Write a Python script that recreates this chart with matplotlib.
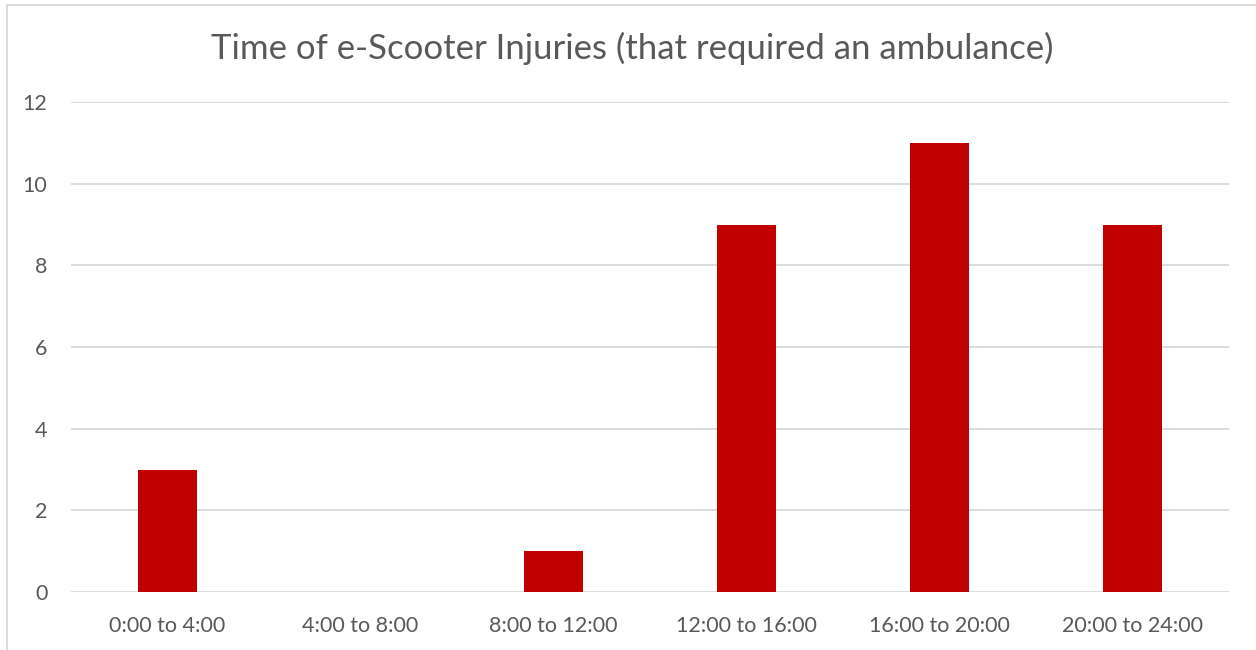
import matplotlib
matplotlib.use("Agg")
import matplotlib.pyplot as plt
from matplotlib.patches import Rectangle

categories = ["0:00 to 4:00", "4:00 to 8:00", "8:00 to 12:00",
              "12:00 to 16:00", "16:00 to 20:00", "20:00 to 24:00"]
values = [3, 0, 1, 9, 11, 9]
yticks = [0, 2, 4, 6, 8, 10, 12]
title = "Time of e-Scooter Injuries (that required an ambulance)"

plt.rcParams['font.family'] = ['Lato', 'DejaVu Sans']

W, H = 1256, 650
fig = plt.figure(figsize=(W / 100, H / 100), dpi=100)
fig.patch.set_facecolor("white")

# chart border
fig.patches.append(Rectangle((6.5 / W, -0.1), 1.2, 1 - 4.5 / H + 0.1,
                             transform=fig.transFigure, fill=False,
                             edgecolor="#D9D9D9", linewidth=1.3))

ax = fig.add_axes([71 / W, 1 - 592 / H, (1229 - 71) / W, (592 - 102) / H])
x = list(range(len(categories)))
ax.bar(x, values, width=0.31, color="#C00000", zorder=3)
ax.set_xlim(-0.5, len(categories) - 0.5)
ax.set_ylim(0, 12)
ax.set_yticks(yticks)
ax.set_xticks(x)
ax.set_xticklabels(categories)
for s in ax.spines.values():
    s.set_visible(False)
ax.grid(axis="y", color="#D9D9D9", linewidth=1.3, zorder=0)
ax.tick_params(axis="both", length=0, colors="#595959", labelsize=15.5)
ax.tick_params(axis="y", pad=17)
ax.tick_params(axis="x", pad=17)

fig.text(632 / W, 1 - 48 / H, title, ha="center", va="center",
         fontsize=25, color="#595959")

fig.savefig("out.png", dpi=100)
